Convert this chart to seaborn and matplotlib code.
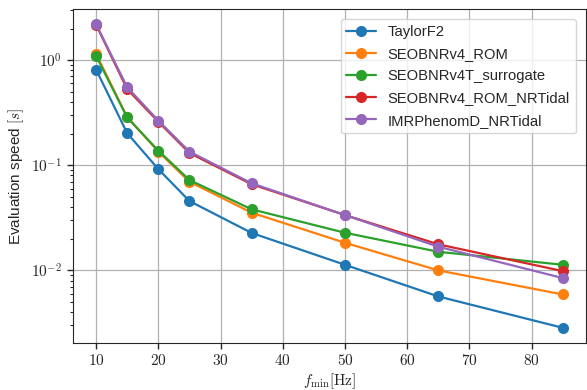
import numpy as np
import pandas as pd
import matplotlib
matplotlib.use("Agg")
import matplotlib.pyplot as plt
import matplotlib.ticker as mticker
import seaborn as sns

# Low-frequency cutoffs [Hz]
f_min = [10, 15, 20, 25, 35, 50, 65, 85]

# Mean evaluation time [s] per waveform model
taylorf2 = [0.814, 0.202, 0.092, 0.0457, 0.0227, 0.0113, 0.00565, 0.00284]
seobnrv4_rom = [1.148, 0.287, 0.135, 0.0698, 0.0354, 0.0183, 0.0100, 0.0059]
seobnrv4t_surrogate = [1.099, 0.285, 0.138, 0.0724, 0.0381, 0.0228, 0.01503, 0.0113]
seobnrv4_rom_nrtidal = [2.18, 0.53, 0.26, 0.131, 0.066, 0.0336, 0.0177, 0.00984]
imrphenomd_nrtidal = [2.20, 0.553, 0.266, 0.135, 0.0674, 0.0336, 0.0168, 0.00845]

models = ["TaylorF2", "SEOBNRv4_ROM", "SEOBNRv4T_surrogate",
          "SEOBNRv4_ROM_NRTidal", "IMRPhenomD_NRTidal"]
times = [taylorf2, seobnrv4_rom, seobnrv4t_surrogate,
         seobnrv4_rom_nrtidal, imrphenomd_nrtidal]

df = pd.DataFrame({
    "f_min": np.tile(f_min, len(models)),
    "time": np.concatenate(times),
    "model": np.repeat(models, len(f_min)),
})

sns.set_style("ticks", {"axes.grid": True, "grid.color": "#b0b0b0",
                        "axes.edgecolor": "#262626"})
plt.rcParams["font.family"] = ["Liberation Sans", "DejaVu Sans"]
plt.rcParams["mathtext.fontset"] = "cm"

fig = plt.figure(figsize=(5.87, 3.90), dpi=100)
ax = fig.add_axes([0.1239, 0.1205, 0.8745, 0.8564])

palette = sns.color_palette("tab10", len(models))
for name, color in zip(models, palette):
    sns.lineplot(data=df[df["model"] == name], x="f_min", y="time",
                 color=color, label=name, marker="o", markersize=8,
                 markeredgewidth=0, linewidth=1.6, ax=ax)

ax.set_yscale("log")
ax.set_xticks([10, 20, 30, 40, 50, 60, 70, 80])
ax.xaxis.set_major_formatter(mticker.FuncFormatter(lambda v, p: f"${int(v)}$"))
ax.yaxis.set_major_formatter(mticker.FuncFormatter(
    lambda v, p: f"$10^{{{int(round(np.log10(v)))}}}$"))
ax.yaxis.set_minor_formatter(mticker.NullFormatter())
ax.tick_params(axis="both", which="major", labelsize=11, length=4,
               width=1, colors="#262626")
ax.tick_params(axis="y", which="minor", length=2.5, width=0.8)
ax.grid(True, which="major", color="#b0b0b0", linewidth=0.9)
ax.grid(False, which="minor")

ax.set_xlabel(r"$f_\mathrm{min}[\mathrm{Hz}]$", fontsize=11, labelpad=2)
ax.set_ylabel(r"Evaluation speed $[s]$", fontsize=11)

ax.legend(loc="upper right", fontsize=10.6, frameon=True, framealpha=0.8,
          edgecolor="#cccccc", fancybox=True, labelspacing=0.55,
          borderaxespad=0.7)

fig.savefig("out.png", dpi=100)
